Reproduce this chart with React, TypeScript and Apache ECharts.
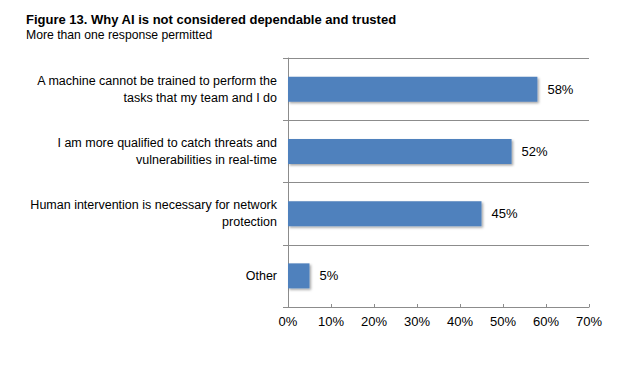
import React, { useEffect, useRef } from "react";
import * as echarts from "echarts";

const categories = [
  "A machine cannot be trained to perform the\ntasks that my team and I do",
  "I am more qualified to catch threats and\nvulnerabilities in real-time",
  "Human intervention is necessary for network\nprotection",
  "Other",
];
const values = [58, 52, 45, 5];
const xTicks = [0, 10, 20, 30, 40, 50, 60, 70];

const FONT = "'Liberation Sans', Arial, Helvetica, sans-serif";

export default function App() {
  const ref = useRef<HTMLDivElement>(null);
  useEffect(() => {
    document.body.style.margin = "0";
    const chart = echarts.init(ref.current!, null, { renderer: "svg" });
    chart.setOption({
      animation: false,
      backgroundColor: "#ffffff",
      title: {
        text: "Figure 13. Why AI is not considered dependable and trusted",
        subtext: "More than one response permitted",
        left: 21,
        top: 8,
        itemGap: 3,
        textStyle: { fontFamily: FONT, fontSize: 13, fontWeight: "bold", color: "#000" },
        subtextStyle: { fontFamily: FONT, fontSize: 12.2, color: "#000" },
      },
      grid: { left: 288, right: 51, top: 58, bottom: 68, containLabel: false },
      xAxis: {
        type: "value",
        min: xTicks[0],
        max: xTicks[xTicks.length - 1],
        interval: 10,
        axisLine: { show: true, lineStyle: { color: "#8c8c8c", width: 1 } },
        axisTick: { show: true, inside: true, length: 3, lineStyle: { color: "#8c8c8c" } },
        splitLine: { show: false },
        axisLabel: {
          fontFamily: FONT,
          fontSize: 13,
          color: "#000",
          margin: 8,
          formatter: (v: number) => v + "%",
        },
      },
      yAxis: {
        type: "category",
        data: categories,
        inverse: true,
        axisLine: { show: true, lineStyle: { color: "#8c8c8c", width: 1 } },
        axisTick: { show: true, length: 5, lineStyle: { color: "#8c8c8c" } },
        splitLine: { show: true, lineStyle: { color: "#8c8c8c", width: 1 } },
        axisLabel: {
          fontFamily: FONT,
          fontSize: 12.5,
          color: "#000",
          margin: 11,
          lineHeight: 17,
          align: "right",
        },
      },
      series: [
        {
          type: "bar",
          data: values,
          barWidth: 25,
          itemStyle: {
            color: "#4F81BD",
            shadowColor: "rgba(0,0,0,0.35)",
            shadowBlur: 2,
            shadowOffsetX: 1.5,
            shadowOffsetY: 1.5,
          },
          label: {
            show: true,
            position: "right",
            distance: 10,
            fontFamily: FONT,
            fontSize: 13,
            color: "#000",
            formatter: (p: any) => p.value + "%",
          },
        },
      ],
    });
    return () => chart.dispose();
  }, []);
  return (
    <div
      ref={ref}
      style={{ position: "absolute", left: 0, top: 0, width: 640, height: 375 }}
    />
  );
}
